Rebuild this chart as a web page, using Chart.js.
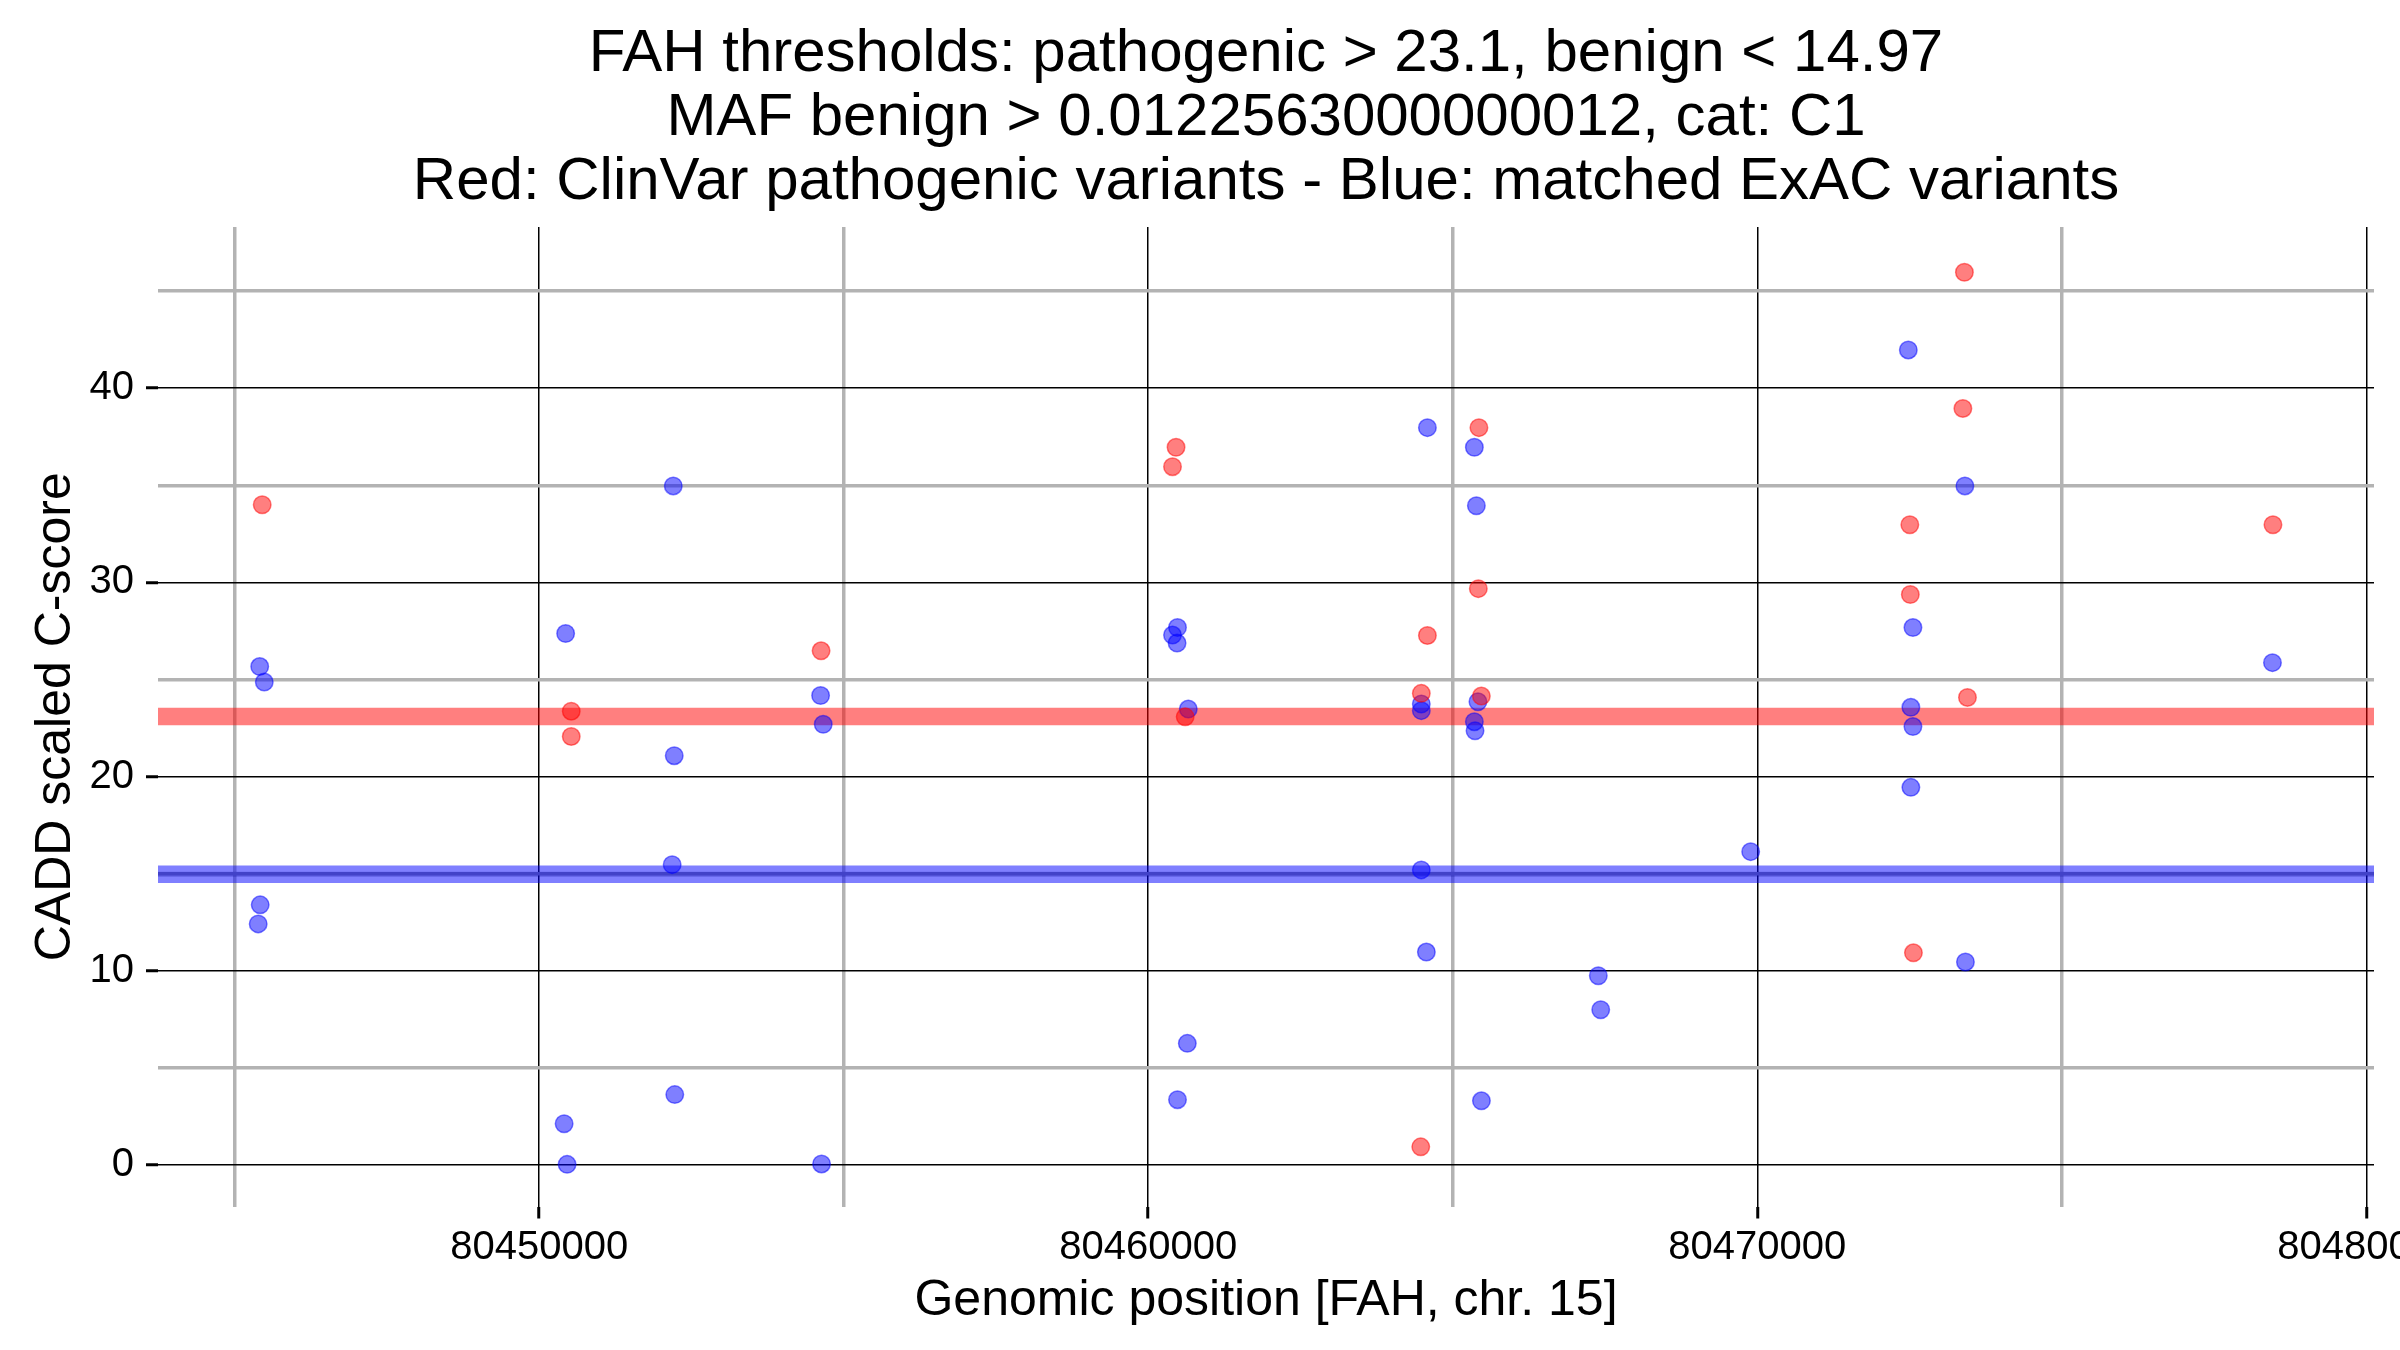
<!DOCTYPE html>
<html>
<head>
<meta charset="utf-8">
<script src="https://cdn.jsdelivr.net/npm/chart.js@4/dist/chart.umd.min.js"></script>
<style>
  html, body { margin: 0; padding: 0; background: #ffffff; overflow: hidden; }
  #wrap { width: 2400px; height: 1350px; }
</style>
</head>
<body>
<div id="wrap"><canvas id="c" width="2400" height="1350"></canvas></div>
<script>
// ---- Data ----
const titleLines = [
  "FAH thresholds: pathogenic > 23.1, benign < 14.97",
  "MAF benign > 0.0122563000000012, cat: C1",
  "Red: ClinVar pathogenic variants - Blue: matched ExAC variants"
];
const xAxisTitle = "Genomic position [FAH, chr. 15]";
const yAxisTitle = "CADD scaled C-score";

const pathogenicThreshold = 23.1;
const benignThreshold = 14.97;

// ClinVar pathogenic variants (red)
const redPos = [80445453, 80450527, 80450527, 80454629, 80460457, 80460399, 80460607,
  80464584, 80464484, 80464475, 80465430, 80465420, 80465470, 80472505, 80472513,
  80472564, 80473401, 80473376, 80473451, 80478467];
const redScore = [34.0, 23.37, 22.07, 26.48, 36.96, 35.96, 23.08,
  27.27, 24.29, 0.94, 37.97, 29.68, 24.15, 32.97, 29.38,
  10.93, 45.97, 38.96, 24.08, 32.97];

// matched ExAC variants (blue)
const bluePos = [80445412, 80445487, 80445420, 80445387, 80450435, 80450410, 80450459,
  80452202, 80452218, 80452184, 80452227, 80454621, 80454664, 80454637,
  80460481, 80460399, 80460474, 80460658, 80460642, 80460481,
  80464584, 80464484, 80464484, 80464484, 80464567,
  80465355, 80465388, 80465414, 80465355, 80465366, 80465471,
  80467390, 80467430, 80469892,
  80472480, 80472556, 80472522, 80472556, 80472522, 80473409, 80473418, 80478459];
const blueScore = [25.67, 24.87, 13.40, 12.42, 27.37, 2.13, 0.04,
  34.97, 21.08, 15.47, 3.63, 24.18, 22.70, 0.06,
  27.68, 27.29, 26.88, 23.48, 6.27, 3.37,
  37.97, 23.74, 23.40, 15.20, 10.97,
  36.96, 33.95, 23.86, 22.83, 22.36, 3.31,
  9.75, 8.00, 16.14,
  41.97, 27.68, 23.57, 22.58, 19.45, 34.97, 10.46, 25.87];

// Axis ticks
const xMajorTicks = [80450000, 80460000, 80470000, 80480000];
const xMinorTicks = [80445000, 80455000, 80465000, 80475000];
const yMajorTicks = [0, 10, 20, 30, 40];
const yMinorTicks = [5, 15, 25, 35, 45];

// Axis ranges
const xMin = 80443742, xMax = 80480126;
const yMin = -2.13, yMax = 48.3;

// ---- Chart ----
const FONT = "'Liberation Sans', Arial, Helvetica, sans-serif";
const toPts = (xs, ys) => xs.map((x, i) => ({ x: x, y: ys[i] }));
const hline = (v) => [{ x: xMin, y: v }, { x: xMax, y: v }];

function isMajor(list, v) { return list.some(t => Math.abs(t - v) < 1e-6); }

const ctx = document.getElementById('c').getContext('2d');
new Chart(ctx, {
  type: 'scatter',
  data: {
    datasets: [
      {
        label: 'ClinVar pathogenic',
        data: toPts(redPos, redScore),
        backgroundColor: 'rgba(255,0,0,0.5)',
        borderColor: 'rgba(255,0,0,0.5)',
        borderWidth: 1.5,
        pointRadius: 8.75,
        order: 1
      },
      {
        label: 'ExAC matched',
        data: toPts(bluePos, blueScore),
        backgroundColor: 'rgba(0,0,255,0.5)',
        borderColor: 'rgba(0,0,255,0.5)',
        borderWidth: 1.5,
        pointRadius: 8.75,
        order: 2
      },
      {
        type: 'line',
        label: 'pathogenic threshold',
        data: hline(pathogenicThreshold),
        borderColor: 'rgba(255,0,0,0.5)',
        borderWidth: 17.5,
        pointRadius: 0,
        fill: false,
        order: 3
      },
      {
        type: 'line',
        label: 'benign threshold inner',
        data: hline(benignThreshold),
        borderColor: 'rgba(0,0,150,0.25)',
        borderWidth: 5,
        pointRadius: 0,
        fill: false,
        order: 3
      },
      {
        type: 'line',
        label: 'benign threshold',
        data: hline(benignThreshold),
        borderColor: 'rgba(0,0,255,0.5)',
        borderWidth: 17.5,
        pointRadius: 0,
        fill: false,
        order: 4
      }
    ]
  },
  options: {
    responsive: false,
    devicePixelRatio: 1,
    animation: false,
    events: [],
    layout: { padding: { left: 0, right: 26, top: 0, bottom: 0 } },
    plugins: {
      legend: { display: false },
      tooltip: { enabled: false },
      title: {
        display: true,
        fullSize: false,
        text: titleLines,
        color: '#000000',
        font: { family: FONT, size: 60, weight: 'normal', lineHeight: 64 / 60 },
        padding: { top: 22, bottom: 13 }
      }
    },
    scales: {
      x: {
        type: 'linear',
        position: 'bottom',
        min: xMin,
        max: xMax,
        afterBuildTicks: (axis) => {
          axis.ticks = xMinorTicks.concat(xMajorTicks).sort((a, b) => a - b).map(v => ({ value: v }));
        },
        afterFit: (scale) => {
          scale.height = 143.5;
          scale.paddingLeft = 0; scale.paddingRight = 0;
          scale.paddingTop = 0; scale.paddingBottom = 0;
        },
        border: { display: false },
        grid: {
          drawTicks: true,
          tickLength: 12,
          color: (c) => isMajor(xMajorTicks, c.tick.value) ? '#000000' : '#b3b3b3',
          lineWidth: (c) => isMajor(xMajorTicks, c.tick.value) ? 1.5 : 3.5,
          tickColor: (c) => isMajor(xMajorTicks, c.tick.value) ? '#000000' : 'rgba(0,0,0,0)',
          tickWidth: 3
        },
        ticks: {
          autoSkip: false,
          maxRotation: 0,
          minRotation: 0,
          padding: 5,
          color: '#000000',
          font: { family: FONT, size: 40 },
          callback: (v) => isMajor(xMajorTicks, v) ? String(v) : ''
        },
        title: {
          display: true,
          text: xAxisTitle,
          color: '#000000',
          font: { family: FONT, size: 50, lineHeight: 1.2 },
          padding: { top: 0, bottom: 19 }
        }
      },
      y: {
        type: 'linear',
        position: 'left',
        min: yMin,
        max: yMax,
        afterBuildTicks: (axis) => {
          axis.ticks = yMajorTicks.concat(yMinorTicks).sort((a, b) => a - b).map(v => ({ value: v }));
        },
        afterFit: (scale) => {
          scale.width = 158;
          scale.paddingLeft = 0; scale.paddingRight = 0;
          scale.paddingTop = 0; scale.paddingBottom = 0;
        },
        border: { display: false },
        grid: {
          drawTicks: true,
          tickLength: 12,
          color: (c) => isMajor(yMajorTicks, c.tick.value) ? '#000000' : '#b3b3b3',
          lineWidth: (c) => isMajor(yMajorTicks, c.tick.value) ? 1.5 : 3.5,
          tickColor: (c) => isMajor(yMajorTicks, c.tick.value) ? '#000000' : 'rgba(0,0,0,0)',
          tickWidth: 3
        },
        ticks: {
          autoSkip: false,
          padding: 12,
          color: '#000000',
          font: { family: FONT, size: 40 },
          callback: (v) => isMajor(yMajorTicks, v) ? String(v) : ''
        },
        title: {
          display: true,
          text: yAxisTitle,
          color: '#000000',
          font: { family: FONT, size: 50, lineHeight: 1.2 },
          padding: { top: 26, bottom: 0 }
        }
      }
    }
  }
});
</script>
</body>
</html>
